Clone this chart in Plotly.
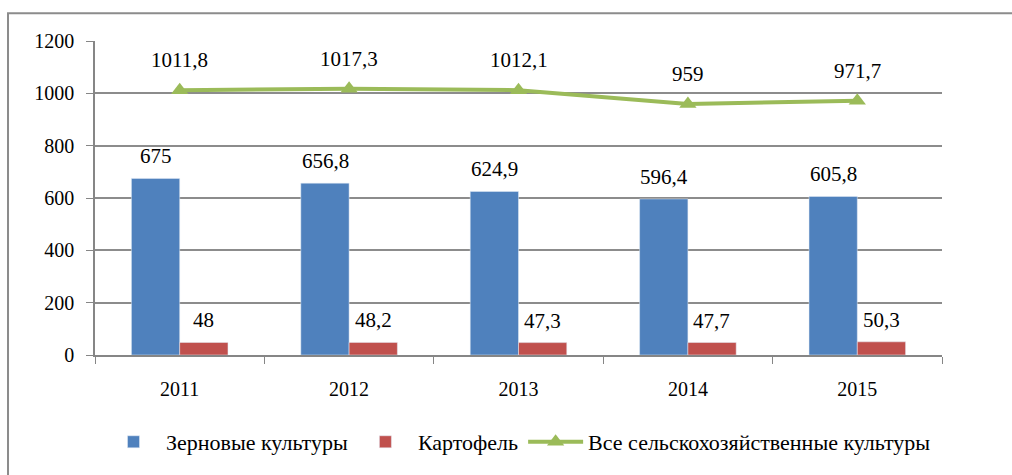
import plotly.graph_objects as go

years = ["2011", "2012", "2013", "2014", "2015"]
grain = [675, 656.8, 624.9, 596.4, 605.8]
potato = [48, 48.2, 47.3, 47.7, 50.3]
all_crops = [1011.8, 1017.3, 1012.1, 959, 971.7]

names = ["Зерновые культуры", "Картофель", "Все сельскохозяйственные культуры"]
colors = ["#4F81BD", "#C0504D", "#9BBB59"]
FONT = "Liberation Serif"


def fmt(v):
    return f"{v:g}".replace(".", ",")


fig = go.Figure()
fig.add_trace(go.Bar(x=years, y=grain, name=names[0], marker_color=colors[0]))
fig.add_trace(go.Bar(x=years, y=potato, name=names[1], marker_color=colors[1]))
fig.add_trace(go.Scatter(x=years, y=all_crops, name=names[2], mode="lines+markers",
                         line=dict(color=colors[2], width=4),
                         marker=dict(symbol="triangle-up", size=15, color=colors[2])))

ann = []
for i, v in enumerate(grain):
    ann.append(dict(x=i, y=v, text=fmt(v), xshift=-24, yshift=22))
for i, v in enumerate(potato):
    ann.append(dict(x=i, y=v, text=fmt(v), xshift=24, yshift=22))
for i, v in enumerate(all_crops):
    ann.append(dict(x=i, y=v, text=fmt(v), yshift=30))
for a in ann:
    a.update(xref="x", yref="y", showarrow=False, font=dict(family=FONT, size=21, color="#000"))

fig.update_layout(
    width=1012, height=475,
    margin=dict(l=95, r=70, t=41, b=116),
    paper_bgcolor="white", plot_bgcolor="white",
    font=dict(family=FONT, size=20, color="#000"),
    barmode="group", bargap=0.43, bargroupgap=0,
    annotations=ann,
    showlegend=True,
    legend=dict(orientation="h", x=0.5, xanchor="center", y=-0.277, yanchor="middle",
                font=dict(family=FONT, size=22), itemwidth=55, tracegroupgap=0),
    shapes=[dict(type="rect", xref="paper", yref="paper", x0=-0.1027, y0=-0.6, x1=1.3, y1=1.088,
                 line=dict(color="#8c8c8c", width=2), layer="below")],
)
fig.update_xaxes(type="category", showline=True, linecolor="#868686", linewidth=1.5,
                 ticks="outside", tickson="boundaries", ticklen=7, tickcolor="#868686",
                 ticklabelstandoff=15, tickfont=dict(family=FONT, size=20), showgrid=False)
fig.update_yaxes(range=[0, 1200], dtick=200, showline=True, linecolor="#868686", linewidth=1.5,
                 showgrid=True, gridcolor="#8c8c8c", gridwidth=1.5, zeroline=False,
                 ticks="outside", ticklen=7, tickcolor="#868686", ticklabelstandoff=8,
                 tickfont=dict(family=FONT, size=20))

fig.write_html("out.html", config={"displayModeBar": False},
               post_script="document.body.style.margin='0px';")
